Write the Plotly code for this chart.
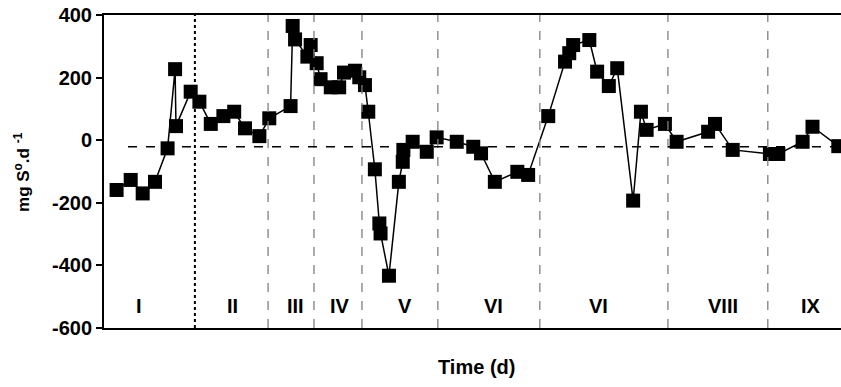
import plotly.graph_objects as go

# Sulfur production rate over time (days), per operating period
time_d = [4.2, 8.9, 12.9, 17.0, 21.2, 23.7, 24.0, 28.9, 31.8, 35.6, 39.8, 43.4, 47.0,
          51.8, 55.1, 62.2, 62.9, 63.7, 67.8, 68.9, 70.9, 72.2, 75.6, 78.4, 80.0, 83.7,
          85.1, 87.0, 88.1, 90.3, 91.8, 92.2, 95.0, 98.3, 99.6, 99.8, 102.9, 107.6,
          110.9, 117.6, 123.1, 125.7, 130.3, 137.8, 141.4, 148.1, 153.7, 155.1, 156.4,
          161.8, 164.4, 168.3, 171.1, 176.4, 179.0, 180.9, 187.0, 190.9, 201.4, 203.7,
          209.6, 222.0, 224.8, 232.9, 236.2, 244.8]
rate = [-159, -127, -170, -133, -26, 227, 45, 155, 123, 52, 77, 91, 38,
        13, 70, 109, 365, 322, 267, 304, 246, 195, 169, 169, 216, 222,
        201, 176, 91, -93, -266, -298, -433, -133, -69, -31, -5, -37,
        9, -5, -21, -42, -133, -101, -111, 77, 251, 278, 304,
        320, 219, 173, 230, -193, 91, 33, 52, -5, 27, 52,
        -31, -44, -44, -5, 43, -19]

# Period boundaries and labels
start_boundary = 30.3
period_bounds = [54.7, 70.0, 86.0, 111.3, 145.3, 188.0, 221.3]
period_names = ["I", "II", "III", "IV", "V", "VI", "VI", "VIII", "IX"]
period_label_x = [11.7, 42.7, 63.7, 78.7, 100.3, 129.7, 165.0, 206.3, 235.7]
label_y = -530
baseline_y = -21
baseline_x0 = 8.0

y_ticks = [-600, -400, -200, 0, 200, 400]
y_ticktext = ["-600", "-400", "-200", "0", "200", "400"]

x_max = 245.7

fig = go.Figure()

fig.add_trace(go.Scatter(
    x=time_d, y=rate, mode="lines+markers",
    line=dict(color="black", width=1.5),
    marker=dict(symbol="square", size=14, color="black"),
    showlegend=False,
))

shapes = [dict(type="line", xref="x", yref="y", x0=start_boundary, x1=start_boundary,
               y0=-600, y1=400, line=dict(color="black", width=2, dash="dot"))]
for b in period_bounds:
    shapes.append(dict(type="line", xref="x", yref="y", x0=b, x1=b, y0=-600, y1=400,
                       line=dict(color="#808080", width=1.3, dash="dash")))
shapes.append(dict(type="line", xref="x", yref="y", x0=baseline_x0, x1=x_max,
                   y0=baseline_y, y1=baseline_y,
                   line=dict(color="black", width=1.5, dash="dash")))

annotations = []
for name, lx in zip(period_names, period_label_x):
    annotations.append(dict(x=lx, y=label_y, xref="x", yref="y", text=name,
                            showarrow=False,
                            font=dict(family="Liberation Sans", size=20, color="black")))
annotations.append(dict(x=-0.112, y=0.5, xref="paper", yref="paper",
                        text="mg S<sup>o</sup>.d <sup>-1</sup>", textangle=-90,
                        showarrow=False, xanchor="center", yanchor="middle",
                        font=dict(family="Liberation Sans", size=17, color="black")))
annotations.append(dict(x=0.506, y=-0.125, xref="paper", yref="paper",
                        text="Time (d)", showarrow=False, yanchor="middle",
                        font=dict(family="Liberation Sans", size=20, color="black")))

fig.update_layout(
    width=841, height=387,
    margin=dict(l=104, r=0, t=15, b=59),
    paper_bgcolor="white", plot_bgcolor="white",
    shapes=shapes, annotations=annotations,
    font=dict(family="Liberation Sans", color="black"),
    xaxis=dict(range=[0, x_max], showticklabels=False, ticks="", showgrid=False,
               zeroline=False, showline=True, linecolor="black", linewidth=2,
               mirror=True),
    yaxis=dict(range=[-600, 400], tickvals=y_ticks, ticktext=y_ticktext,
               ticks="outside", ticklen=6, tickcolor="black", tickwidth=1.5,
               showgrid=False, zeroline=False, showline=True, linecolor="black",
               linewidth=2,
               tickfont=dict(family="Liberation Sans", size=20, color="black",
                             weight="bold")),
)
fig.update_annotations(font_weight="bold")

fig.write_html("out.html")
